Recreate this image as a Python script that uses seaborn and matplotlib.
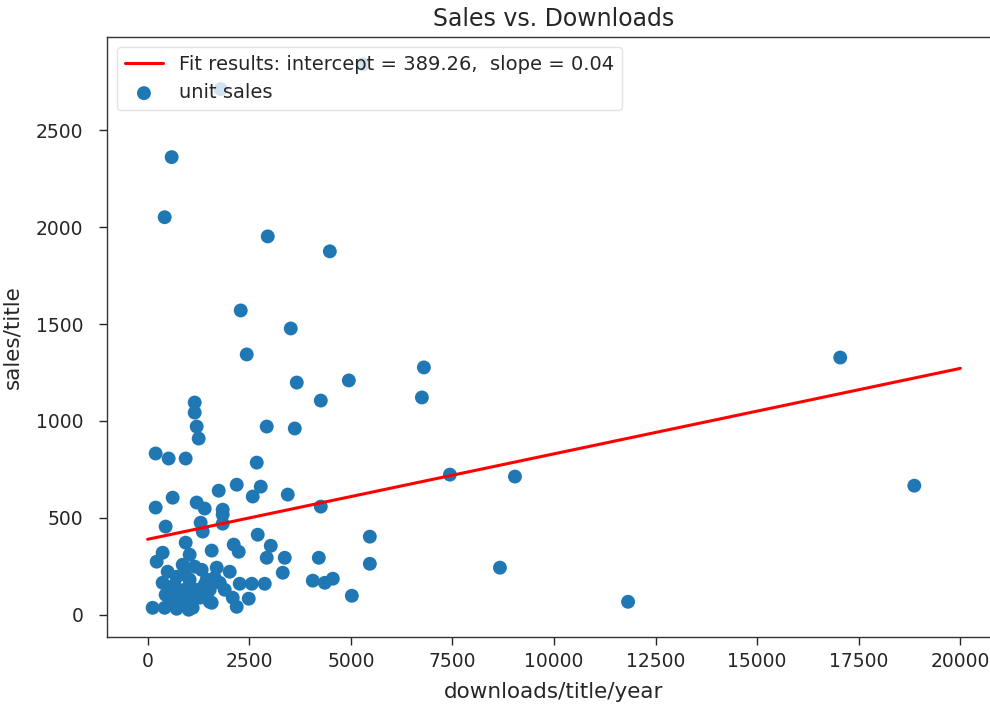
import matplotlib
matplotlib.use("Agg")
import matplotlib.pyplot as plt
import seaborn as sns
import numpy as np
import pandas as pd

# ---- data ----
downloads = [
    5296, 1798, 591, 419, 2956, 4483, 2291, 3522, 2438, 17044,
    6798, 3670, 4951, 6749, 4261, 1158, 1158, 1207, 1256, 2931,
    3621, 197, 517, 936, 2685, 2192, 1749, 2783, 2586, 3448,
    616, 197, 1207, 1404, 1847, 1847, 1305, 1355, 443, 1847,
    4261, 7438, 9039, 18867, 5468, 2709, 936, 369, 222, 1034,
    1576, 2118, 2241, 3030, 2931, 3374, 3325, 4212, 5468, 4064,
    4360, 4557, 5025, 8670, 11823, 2266, 2562, 2882, 2094, 2192,
    2488, 1576, 123, 419, 714, 1010,
    862, 1330, 1700, 2020, 369, 714, 1034, 1453, 1773, 542,
    862, 1207, 1527, 616, 1034, 1527, 493, 665, 911, 1158,
    1281, 788, 1404, 1650, 1897, 443, 1108, 739, 985, 1453,
]
sales = [
    2840, 2712, 2361, 2051, 1952, 1875, 1570, 1477, 1343, 1327,
    1276, 1198, 1209, 1121, 1105, 1095, 1043, 971, 909, 971,
    961, 832, 806, 806, 785, 671, 640, 661, 610, 620,
    604, 553, 579, 548, 542, 517, 475, 429, 455, 470,
    558, 723, 713, 666, 403, 413, 372, 320, 274, 310,
    331, 362, 325, 356, 294, 294, 217, 294, 263, 176,
    165, 186, 98, 243, 67, 160, 160, 160, 88, 41,
    83, 62, 36, 36, 31, 26,
    258, 232, 243, 222, 165, 196, 181, 181, 165, 114,
    114, 129, 129, 67, 77, 67, 222, 155, 207, 248,
    88, 77, 155, 191, 129, 103, 36, 129, 139, 103,
]
fit_intercept = 389.26
fit_slope = 0.0441
fit_x = [0, 20000]

df = pd.DataFrame({"downloads": downloads, "sales": sales})
fit_df = pd.DataFrame({"x": fit_x,
                       "y": [fit_intercept + fit_slope * v for v in fit_x]})

sns.set_theme(style="ticks")
plt.rcParams.update({
    "axes.edgecolor": "#333333",
    "axes.linewidth": 1.0,
    "xtick.major.size": 6,
    "ytick.major.size": 6,
    "xtick.major.width": 1.0,
    "ytick.major.width": 1.0,
    "text.color": "#262626",
    "axes.labelcolor": "#262626",
    "xtick.color": "#262626",
    "ytick.color": "#262626",
})
plt.rcParams["font.family"] = ["DejaVu Sans"]

fig = plt.figure(figsize=(9.9, 7.09), dpi=100)
ax = fig.add_axes([107 / 990, 72 / 709, (1001 - 107) / 990, 600 / 709])

label = "Fit results: intercept = {:.2f},  slope = {:.2f}".format(fit_intercept, fit_slope)
sns.lineplot(data=fit_df, x="x", y="y", ax=ax, color="red", linewidth=2.2,
             label=label)
sns.scatterplot(data=df, x="downloads", y="sales", ax=ax, s=100,
                color="#1f77b4", edgecolor="none", linewidth=0,
                label="unit sales")

ax.set_xticks(np.arange(0, 20001, 2500))
ax.set_yticks(np.arange(0, 2501, 500))
ax.tick_params(axis="x", labelsize=13.5, pad=5)
ax.tick_params(axis="y", labelsize=13.5, pad=11)
ax.set_xlabel("downloads/title/year", fontsize=15.5, labelpad=8)
ax.set_ylabel("sales/title", fontsize=15.5, labelpad=9.5)
ax.set_title("Sales vs. Downloads", fontsize=17, pad=8)

leg = ax.legend(loc="upper left", fontsize=14, frameon=True, framealpha=0.8,
                borderaxespad=0.5)
leg.get_frame().set_edgecolor("#dddddd")

fig.savefig("out.png", dpi=100)
